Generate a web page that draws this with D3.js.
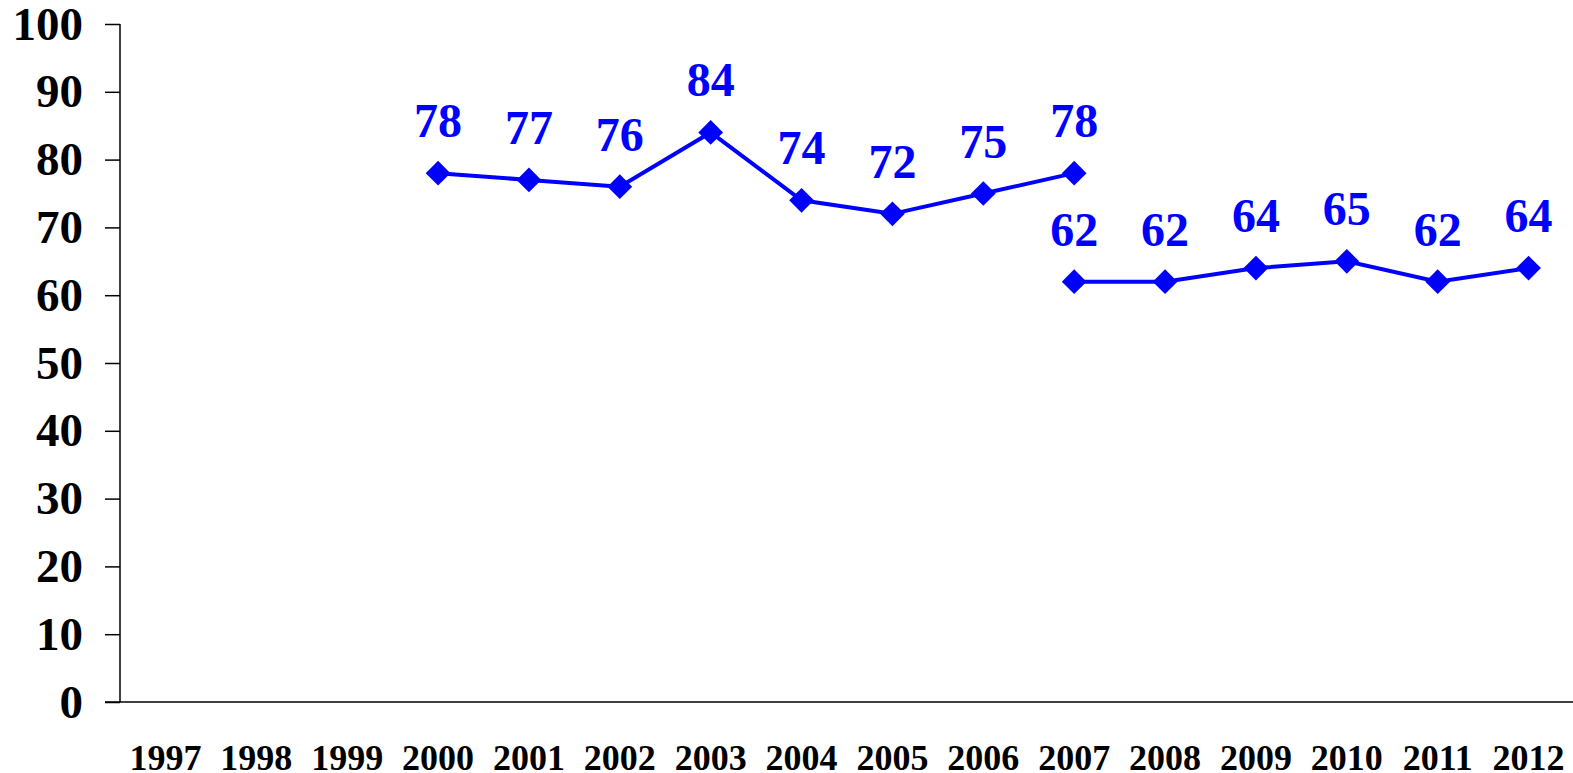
<!DOCTYPE html>
<html>
<head>
<meta charset="utf-8">
<script src="https://d3js.org/d3.v7.min.js"></script>
<style>
  body { margin: 0; background: #fff; }
  text { font-family: "Liberation Serif", "Times New Roman", serif; font-weight: bold; }
</style>
</head>
<body>
<div id="container"></div>
<script>
// data
var years = ["1997","1998","1999","2000","2001","2002","2003","2004","2005","2006","2007","2008","2009","2010","2011","2012"];
var firstYears = ["2000","2001","2002","2003","2004","2005","2006","2007"];
var firstValues = [78, 77, 76, 84, 74, 72, 75, 78];
var secondYears = ["2007","2008","2009","2010","2011","2012"];
var secondValues = [62, 62, 64, 65, 62, 64];
var yTicks = [0, 10, 20, 30, 40, 50, 60, 70, 80, 90, 100];

const width = 1573, height = 773;
const margin = { top: 24, left: 120, right: -1, bottom: 71 };

var svg = d3.select("#container").append("svg")
  .attr("width", width)
  .attr("height", height);

var x = d3.scaleBand()
  .domain(years)
  .range([margin.left, width - margin.right]);

var y = d3.scaleLinear()
  .domain([0, 100])
  .range([height - margin.bottom, margin.top]);

// y axis
var yAxis = svg.append("g")
  .attr("transform", `translate(${margin.left},0)`)
  .call(d3.axisLeft(y).tickValues(yTicks).tickSize(15).tickPadding(22));
yAxis.selectAll("text").style("font-size", "47px").attr("fill", "#000");
yAxis.selectAll("line, path").attr("stroke", "#000").attr("stroke-width", 1.5);
yAxis.select(".domain").attr("d", `M0,${y(0)}V${y(100)}`);

// x axis
var xAxis = svg.append("g")
  .attr("transform", `translate(0,${y(0)})`)
  .call(d3.axisBottom(x).tickSize(0).tickPadding(42));
xAxis.selectAll("text").style("font-size", "36px").attr("fill", "#000");
xAxis.select(".domain").attr("stroke", "#000").attr("stroke-width", 1.5)
  .attr("d", `M${margin.left - 15},0H${width}`);

var blue = "#0000ff";
var line = d3.line()
  .x(function(d) { return x(d.year) + x.bandwidth() / 2; })
  .y(function(d) { return y(d.value); });

var diamond = d3.symbol().type(d3.symbolDiamond2).size(390);

[[firstYears, firstValues], [secondYears, secondValues]].forEach(function(s) {
  var pts = s[0].map(function(yr, i) { return { year: yr, value: s[1][i] }; });

  svg.append("path")
    .datum(pts)
    .attr("fill", "none")
    .attr("stroke", blue)
    .attr("stroke-width", 4)
    .attr("d", line);

  svg.selectAll(null)
    .data(pts)
    .enter()
    .append("path")
    .attr("d", diamond)
    .attr("fill", blue)
    .attr("transform", function(d) {
      return `translate(${x(d.year) + x.bandwidth() / 2},${y(d.value)})`;
    });

  svg.selectAll(null)
    .data(pts)
    .enter()
    .append("text")
    .attr("x", function(d) { return x(d.year) + x.bandwidth() / 2; })
    .attr("y", function(d) { return y(d.value) - 36; })
    .attr("text-anchor", "middle")
    .attr("fill", blue)
    .style("font-size", "48px")
    .text(function(d) { return d.value; });
});
</script>
</body>
</html>
